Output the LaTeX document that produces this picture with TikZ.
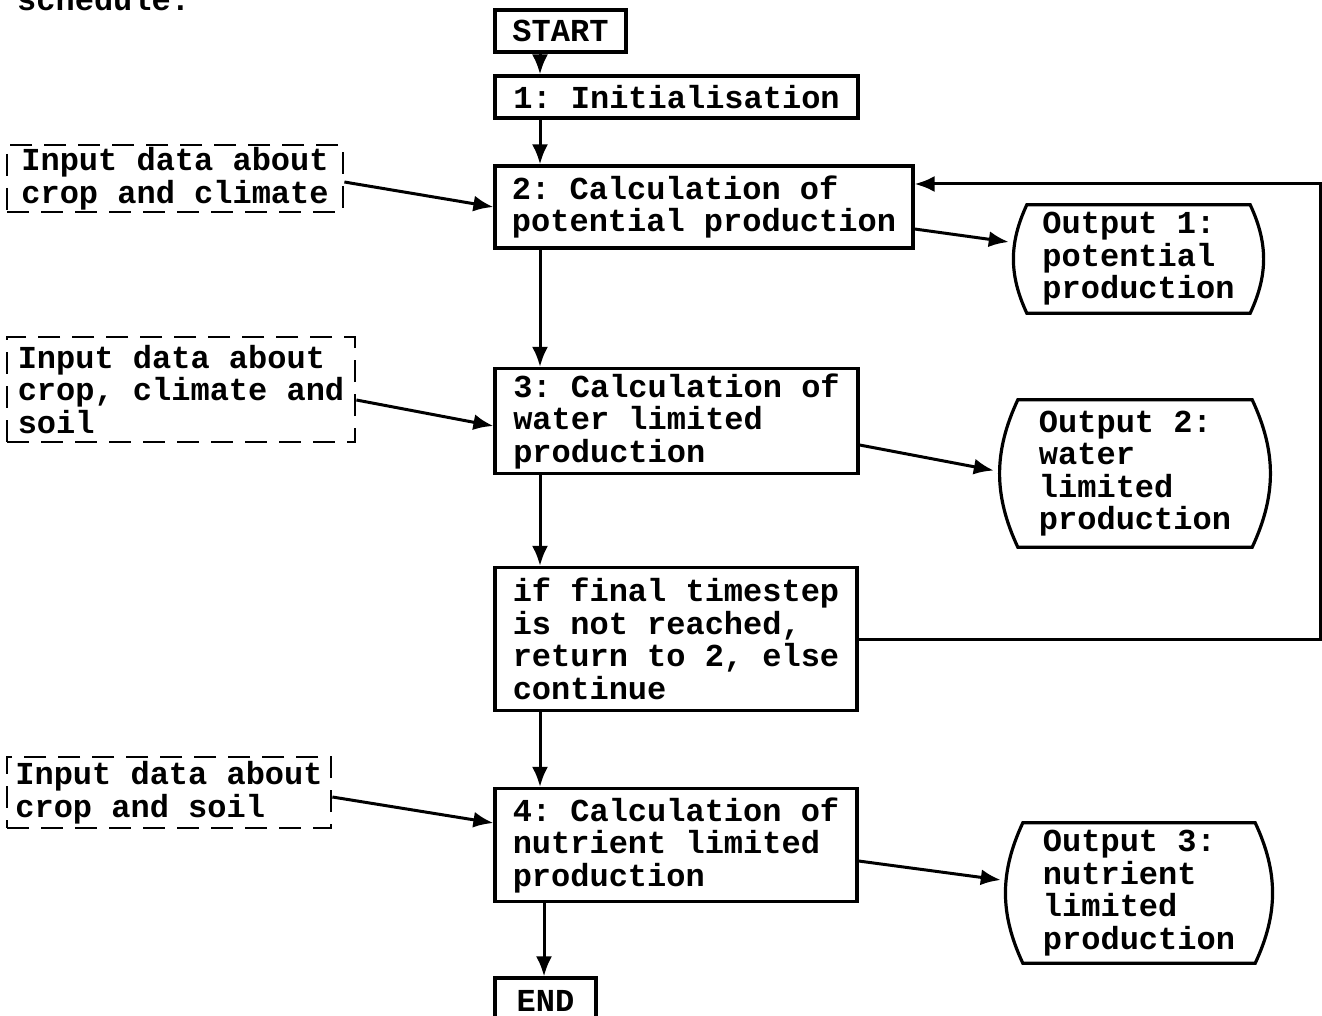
\documentclass[tikz,border=0pt]{standalone}
\usepackage{fontspec}
\newfontfamily\typewriter{Liberation Mono}
\usetikzlibrary{arrows.meta}
\frenchspacing
\tikzset{
  txt/.style={font=\typewriter\bfseries\fontsize{32}{32.5}\selectfont, align=left, inner sep=0pt},
  procbox/.style={txt, draw, line width=3.2pt, rectangle},
  inbox/.style={txt, draw, line width=2.8pt, dash pattern=on 22pt off 12pt},
  outbox/.style={txt, rectangle},
  barrel/.style={line width=3.2pt},
  arr/.style={line width=3pt, -{Latex[length=20pt,width=16pt]}},
  link/.style={line width=3pt}
}
\begin{document}
\begin{tikzpicture}[x=1pt,y=-1pt]
\useasboundingbox (0,0) rectangle (1322,1016);

\node[txt, anchor=base west] (caption) at (17,11) {schedule.};

% main column
\node[procbox, minimum width=131pt, minimum height=42pt] (start) at (560.5,31) {START};
\node[procbox, minimum width=363pt, minimum height=42pt] (init) at (676.5,97) {1: Initialisation};
\node[procbox, minimum width=418pt, minimum height=82pt] (b2) at (704,207) {2: Calculation of\\potential production};
\node[procbox, minimum width=363pt, minimum height=105pt] (b3) at (676.5,421) {3: Calculation of\\water limited\\production};
\node[procbox, minimum width=362pt, minimum height=143pt] (iff) at (676,639) {if final timestep\\is not reached,\\return to 2, else\\continue};
\node[procbox, minimum width=362pt, minimum height=113pt] (b4) at (676,845) {4: Calculation of\\nutrient limited\\production};
\node[procbox, minimum width=101pt, minimum height=46pt] (end) at (545.5,1001) {END};

% inputs
\node[inbox, minimum width=336pt, minimum height=67pt] (in1) at (175,178.5) {Input data about\\crop and climate};
\node[inbox, minimum width=348pt, minimum height=105pt] (in2) at (181,389.5) {Input data about\\crop, climate and\\soil};
\node[inbox, minimum width=324pt, minimum height=71pt] (in3) at (169,792.5) {Input data about\\crop and soil};

% outputs
\node[outbox, minimum width=247pt, minimum height=108pt] (o1) at (1138.5,259) {Output 1:\\potential\\production};
\node[outbox, minimum width=290pt, minimum height=147pt] (o2) at (1135,473.5) {Output 2:\\water\\limited\\production};
\node[outbox, minimum width=272pt, minimum height=140pt] (o3) at (1139,893) {Output 3:\\nutrient\\limited\\production};

\foreach \n/\d in {o1/12, o2/28, o3/20}{
  \draw[barrel] ([xshift=\d pt]\n.north west) -- ([xshift=-\d pt]\n.north east)
    to[out=-65,in=65] ([xshift=-\d pt]\n.south east)
    -- ([xshift=\d pt]\n.south west)
    to[out=115,in=-115] ([xshift=\d pt]\n.north west) -- cycle;
}

% spine
\coordinate (spine) at (540,0);
\coordinate (spineb) at (544,0);
\draw[arr] (start.south -| spine) -- (init.north -| spine);
\draw[arr] (init.south -| spine) -- (b2.north -| spine);
\draw[arr] (b2.south -| spine) -- (b3.north -| spine);
\draw[arr] (b3.south -| spine) -- (iff.north -| spine);
\draw[arr] (iff.south -| spine) -- (b4.north -| spine);
\draw[arr] (b4.south -| spineb) -- (end.north -| spineb);

% inputs to process
\draw[arr] ([yshift=-3.5pt]in1.east) -- (b2.west);
\draw[arr] ([yshift=-10.5pt]in2.east) -- ([yshift=-5pt]b3.west);
\draw[arr] ([yshift=-4.5pt]in3.east) -- ([yshift=22pt]b4.west);

% process to outputs
\draw[arr] ([yshift=-22pt]b2.east) -- ([xshift=-6pt,yshift=17pt]o1.west);
\draw[arr] ([yshift=-24pt]b3.east) -- ([xshift=4pt,yshift=3pt]o2.west);
\draw[arr] ([yshift=-16pt]b4.east) -- ([xshift=-2pt,yshift=13pt]o3.west);

% feedback loop
\coordinate (fb) at (1320,184);
\draw[arr] (iff.east) -| (fb) -- (b2.east |- fb);
\end{tikzpicture}
\end{document}
